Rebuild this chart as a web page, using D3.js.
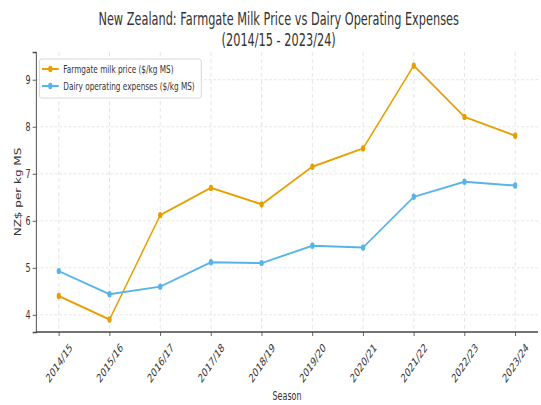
<!DOCTYPE html>
<html>
<head>
<meta charset="utf-8">
<script src="https://cdn.jsdelivr.net/npm/d3@7"></script>
<style>
  body { margin: 0; background: #fff; }
  text { font-family: "DejaVu Sans", sans-serif; fill: #333; }
</style>
</head>
<body>
<div id="chart"></div>
<script>
// data
var seasons = ["2014/15", "2015/16", "2016/17", "2017/18", "2018/19",
               "2019/20", "2020/21", "2021/22", "2022/23", "2023/24"]
var milkPrice = [4.40, 3.90, 6.12, 6.70, 6.35, 7.15, 7.54, 9.30, 8.21, 7.81]
var opExpenses = [4.93, 4.44, 4.60, 5.12, 5.10, 5.47, 5.43, 6.51, 6.83, 6.75]
var yTicks = [4, 5, 6, 7, 8, 9]
var seriesNames = ["Farmgate milk price ($/kg MS)", "Dairy operating expenses ($/kg MS)"]

// the picture is squeezed sideways, so draw wide and squash via viewBox
var sx = 1.5
var W = 541 * sx, H = 405
var margin = {top: 52, right: W - 807, bottom: H - 332, left: 54}

var svg = d3.select("#chart").append("svg")
  .attr("width", 541)
  .attr("height", 405)
  .attr("viewBox", "0 0 " + W + " " + H)
  .attr("preserveAspectRatio", "none")

var x = d3.scalePoint()
  .domain(seasons)
  .range([margin.left, W - margin.right])
  .padding(0.45)

var y = d3.scaleLinear()
  .domain([3.635, 9.59])
  .range([H - margin.bottom, margin.top])

// grid
var grid = svg.append("g")
grid.selectAll(".gx").data(seasons).enter().append("line")
  .attr("x1", d => x(d)).attr("x2", d => x(d))
  .attr("y1", margin.top).attr("y2", H - margin.bottom)
  .attr("stroke", "#d8d8d8").attr("stroke-width", 0.8)
  .attr("stroke-dasharray", "4,3")
grid.selectAll(".gy").data(yTicks).enter().append("line")
  .attr("x1", margin.left).attr("x2", W - margin.right)
  .attr("y1", d => y(d)).attr("y2", d => y(d))
  .attr("stroke", "#d8d8d8").attr("stroke-width", 0.8)
  .attr("stroke-dasharray", "4,3")

// axes
var yAxis = svg.append("g")
  .attr("transform", "translate(" + margin.left + ",0)")
  .call(d3.axisLeft(y).tickValues(yTicks).tickFormat(d3.format("d")).tickSize(5).tickPadding(3))
yAxis.select(".domain").attr("stroke", "#444").attr("stroke-width", 1.4)
yAxis.selectAll(".tick line").attr("stroke", "#444")
yAxis.selectAll(".tick text").attr("font-size", 12).attr("fill", "#333")
  .style("font-family", "DejaVu Sans")

var xAxis = svg.append("g")
  .attr("transform", "translate(0," + (H - margin.bottom) + ")")
  .call(d3.axisBottom(x).tickSize(4))
xAxis.select(".domain").attr("stroke", "#444").attr("stroke-width", 1.4)
  .attr("d", "M" + margin.left + ",0H" + (W - margin.right))
xAxis.selectAll(".tick line").attr("stroke", "#444")
xAxis.selectAll(".tick text")
  .attr("font-size", 12).attr("fill", "#333")
  .style("font-family", "DejaVu Sans")
  .attr("text-anchor", "middle")
  .attr("dominant-baseline", "central")
  .attr("x", 0).attr("y", 31).attr("dy", null)
  .attr("transform", "rotate(-45,0,31)")

// lines + markers
var colors = ["#E69F00", "#56B4E9"]
var series = [milkPrice, opExpenses]
var line = d3.line()
  .x((d, i) => x(seasons[i]))
  .y(d => y(d))

series.forEach(function(vals, k) {
  svg.append("path")
    .datum(vals)
    .attr("d", line)
    .attr("fill", "none")
    .attr("stroke", colors[k])
    .attr("stroke-width", 2)
  svg.append("g").selectAll("circle")
    .data(vals).enter().append("circle")
    .attr("cx", (d, i) => x(seasons[i]))
    .attr("cy", d => y(d))
    .attr("r", 3.2)
    .attr("fill", colors[k])
})

// labels
svg.append("text")
  .attr("x", 418).attr("y", 25.5)
  .attr("text-anchor", "middle").attr("font-size", 17)
  .text("New Zealand: Farmgate Milk Price vs Dairy Operating Expenses")
svg.append("text")
  .attr("x", 418).attr("y", 46)
  .attr("text-anchor", "middle").attr("font-size", 17)
  .text("(2014/15 - 2023/24)")

svg.append("text")
  .attr("x", (margin.left + W - margin.right) / 2).attr("y", 400)
  .attr("text-anchor", "middle").attr("font-size", 12)
  .text("Season")

svg.append("text")
  .attr("transform", "translate(28," + ((margin.top + H - margin.bottom) / 2) + ") rotate(-90)")
  .attr("text-anchor", "middle").attr("dominant-baseline", "central")
  .attr("font-size", 12)
  .text("NZ$ per kg MS")

// legend
var lg = svg.append("g").attr("transform", "translate(59,59)")
lg.append("rect")
  .attr("width", 243).attr("height", 39)
  .attr("rx", 3)
  .attr("fill", "#fff").attr("fill-opacity", 0.85)
  .attr("stroke", "#d0d0d0")
var item = lg.selectAll(".item").data(seriesNames).enter().append("g")
  .attr("transform", (d, i) => "translate(0," + (10 + i * 17) + ")")
item.append("line")
  .attr("x1", 4).attr("x2", 29)
  .attr("stroke", (d, i) => colors[i]).attr("stroke-width", 2)
item.append("circle")
  .attr("cx", 16.5).attr("r", 3.2)
  .attr("fill", (d, i) => colors[i])
item.append("text")
  .attr("x", 36).attr("dominant-baseline", "central")
  .attr("font-size", 11)
  .text(d => d)
</script>
</body>
</html>
